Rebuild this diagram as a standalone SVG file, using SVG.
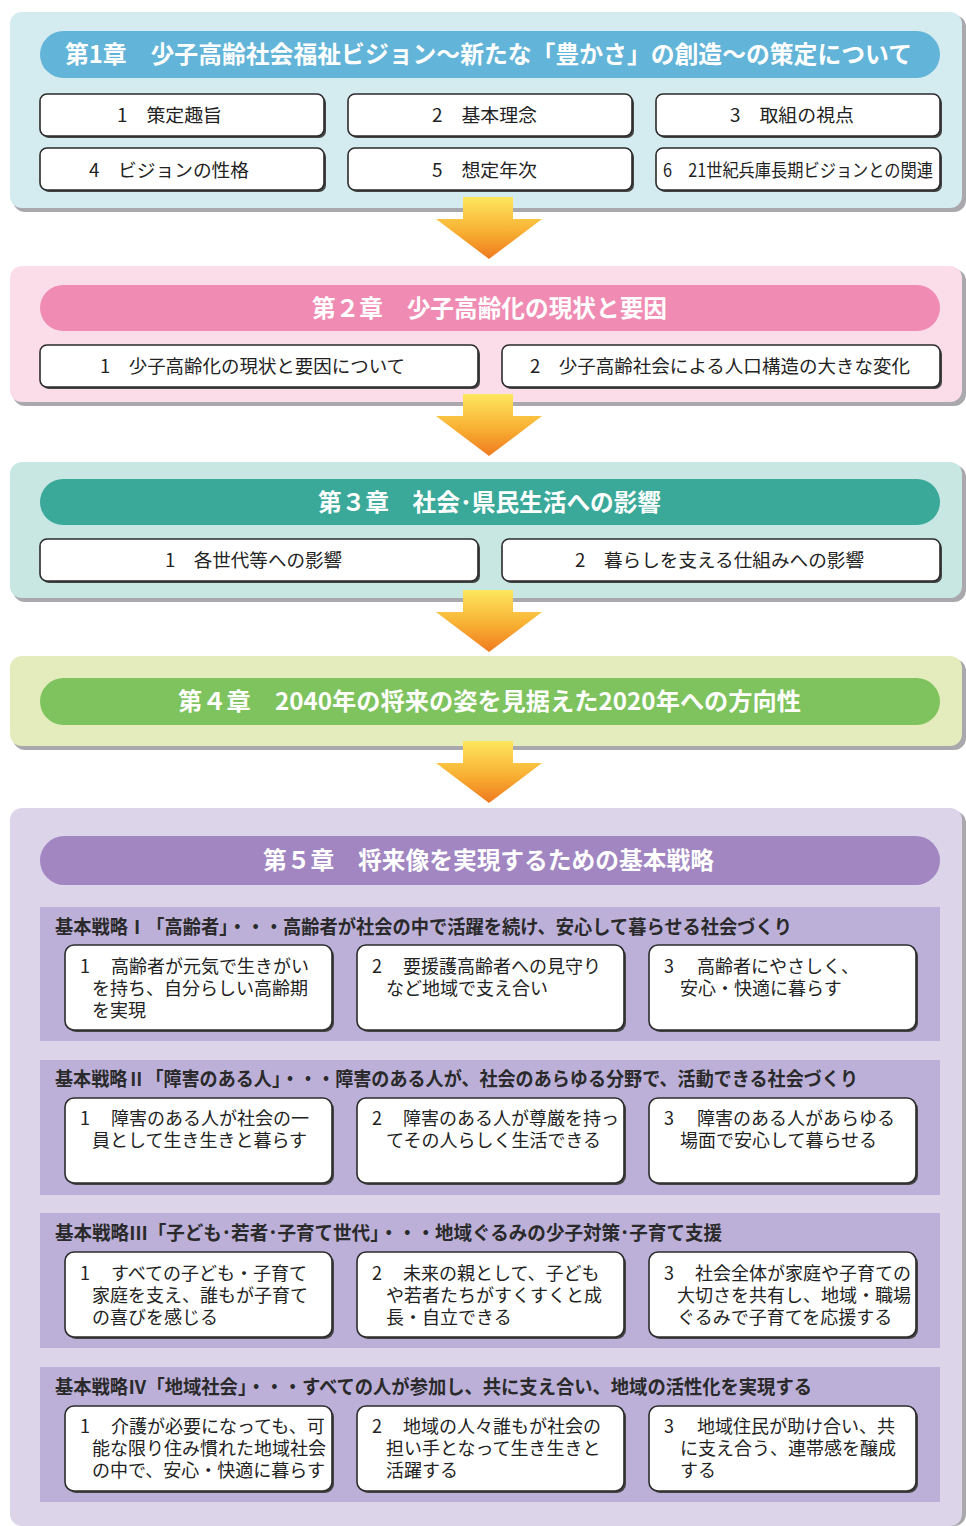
<svg xmlns="http://www.w3.org/2000/svg" width="966" height="1526" viewBox="0 0 966 1526">
<defs>
<linearGradient id="ag" x1="0" y1="0" x2="0" y2="1">
<stop offset="0" stop-color="#fde65e"/>
<stop offset="0.55" stop-color="#f8b133"/>
<stop offset="1" stop-color="#ef7a1f"/>
</linearGradient>
<style>
text{font-family:"Noto Sans CJK JP","Noto Sans",sans-serif;fill:#222}
.hd{font-size:24px;font-weight:bold;fill:#fff;text-anchor:middle}
.bx{font-size:18px}
.bt{font-size:19px;font-weight:bold;fill:#2a2a2a}
.sb{font-size:18px;fill:#222}
.box{fill:#fff;stroke:#2b2b2b;stroke-width:1.6}
.bsh{fill:#444}
.psh{fill:#a9a9ad}
.band{fill:#bcb0d9}
</style>
</defs>
<rect width="966" height="1526" fill="#fff"/>

<!-- Chapter 1 -->
<g id="ch1">
<rect class="psh" x="13" y="15" width="953" height="197" rx="12"/>
<rect x="10" y="12" width="952" height="196" rx="12" fill="#d4ebef"/>
<rect x="40" y="31" width="900" height="47" rx="23.5" fill="#62b4d8"/>
<text class="hd" x="488.5" y="63" textLength="847" lengthAdjust="spacingAndGlyphs">第1章　少子高齢社会福祉ビジョン～新たな「豊かさ」の創造～の策定について</text>
<g id="ch1-1"><rect class="bsh" x="42" y="96" width="284" height="42" rx="7"/><rect class="box" x="40" y="94" width="284" height="42" rx="7"/><text class="bx" x="117" y="121.5" textLength="105" lengthAdjust="spacingAndGlyphs">1　策定趣旨</text></g>
<g id="ch1-2"><rect class="bsh" x="350" y="96" width="284" height="42" rx="7"/><rect class="box" x="348" y="94" width="284" height="42" rx="7"/><text class="bx" x="432" y="121.5" textLength="105" lengthAdjust="spacingAndGlyphs">2　基本理念</text></g>
<g id="ch1-3"><rect class="bsh" x="658" y="96" width="284" height="42" rx="7"/><rect class="box" x="656" y="94" width="284" height="42" rx="7"/><text class="bx" x="730" y="121.5" textLength="124" lengthAdjust="spacingAndGlyphs">3　取組の視点</text></g>
<g id="ch1-4"><rect class="bsh" x="42" y="150" width="284" height="42" rx="7"/><rect class="box" x="40" y="148" width="284" height="42" rx="7"/><text class="bx" x="89" y="176.5" textLength="160" lengthAdjust="spacingAndGlyphs">4　ビジョンの性格</text></g>
<g id="ch1-5"><rect class="bsh" x="350" y="150" width="284" height="42" rx="7"/><rect class="box" x="348" y="148" width="284" height="42" rx="7"/><text class="bx" x="432" y="176.5" textLength="105" lengthAdjust="spacingAndGlyphs">5　想定年次</text></g>
<g id="ch1-6"><rect class="bsh" x="658" y="150" width="284" height="42" rx="7"/><rect class="box" x="656" y="148" width="284" height="42" rx="7"/><text class="bx" x="663" y="176.5" textLength="270" lengthAdjust="spacingAndGlyphs">6　21世紀兵庫長期ビジョンとの関連</text></g>
</g>

<!-- Chapter 2 -->
<g id="ch2">
<rect class="psh" x="13" y="269" width="953" height="137" rx="12"/>
<rect x="10" y="266" width="952" height="136" rx="12" fill="#fbdde9"/>
<rect x="40" y="285" width="900" height="46" rx="23" fill="#f08cb3"/>
<text class="hd" x="489.5" y="317" textLength="355" lengthAdjust="spacingAndGlyphs">第２章　少子高齢化の現状と要因</text>
<g id="ch2-1"><rect class="bsh" x="42" y="347" width="438" height="42" rx="7"/><rect class="box" x="40" y="345" width="438" height="42" rx="7"/><text class="bx" x="100" y="372.5" textLength="305" lengthAdjust="spacingAndGlyphs">1　少子高齢化の現状と要因について</text></g>
<g id="ch2-2"><rect class="bsh" x="504" y="347" width="438" height="42" rx="7"/><rect class="box" x="502" y="345" width="438" height="42" rx="7"/><text class="bx" x="530" y="372.5" textLength="380" lengthAdjust="spacingAndGlyphs">2　少子高齢社会による人口構造の大きな変化</text></g>
</g>

<!-- Chapter 3 -->
<g id="ch3">
<rect class="psh" x="13" y="465" width="953" height="137" rx="12"/>
<rect x="10" y="462" width="952" height="136" rx="12" fill="#c8e7e3"/>
<rect x="40" y="479" width="900" height="46" rx="23" fill="#3aa99a"/>
<text class="hd" x="489.5" y="511" textLength="343" lengthAdjust="spacingAndGlyphs">第３章　社会･県民生活への影響</text>
<g id="ch3-1"><rect class="bsh" x="42" y="541" width="438" height="42" rx="7"/><rect class="box" x="40" y="539" width="438" height="42" rx="7"/><text class="bx" x="165" y="566.5" textLength="177" lengthAdjust="spacingAndGlyphs">1　各世代等への影響</text></g>
<g id="ch3-2"><rect class="bsh" x="504" y="541" width="438" height="42" rx="7"/><rect class="box" x="502" y="539" width="438" height="42" rx="7"/><text class="bx" x="575" y="566.5" textLength="289" lengthAdjust="spacingAndGlyphs">2　暮らしを支える仕組みへの影響</text></g>
</g>

<!-- Chapter 4 -->
<g id="ch4">
<rect class="psh" x="13" y="659" width="953" height="91" rx="12"/>
<rect x="10" y="656" width="952" height="90" rx="12" fill="#e4ecbd"/>
<rect x="40" y="678" width="900" height="47" rx="23.5" fill="#7ec35d"/>
<text class="hd" x="489.5" y="710" textLength="623" lengthAdjust="spacingAndGlyphs">第４章　2040年の将来の姿を見据えた2020年への方向性</text>
</g>

<!-- Chapter 5 -->
<g id="ch5">
<rect class="psh" x="13" y="811" width="953" height="715" rx="12"/>
<rect x="10" y="808" width="952" height="718" rx="12" fill="#dcd5ea"/>
<rect x="40" y="836" width="900" height="49" rx="24.5" fill="#a186c2"/>
<text class="hd" x="488.5" y="869" textLength="451" lengthAdjust="spacingAndGlyphs">第５章　将来像を実現するための基本戦略</text>

<g id="s1">
<rect class="band" x="40" y="907" width="900" height="134"/>
<text class="bt" x="55" y="934" textLength="737" lengthAdjust="spacingAndGlyphs">基本戦略Ⅰ「高齢者」・・・高齢者が社会の中で活躍を続け、安心して暮らせる社会づくり</text>
<g id="s1-1"><rect class="bsh" x="67" y="947" width="267" height="85" rx="9"/><rect class="box" x="65" y="945" width="267" height="85" rx="9"/>
<text class="sb" y="972.5"><tspan x="80">1</tspan><tspan x="111">高齢者が元気で生きがい</tspan><tspan x="92" dy="22">を持ち、自分らしい高齢期</tspan><tspan x="92" dy="22">を実現</tspan></text></g>
<g id="s1-2"><rect class="bsh" x="359" y="947" width="267" height="85" rx="9"/><rect class="box" x="357" y="945" width="267" height="85" rx="9"/>
<text class="sb" y="972.5"><tspan x="372">2</tspan><tspan x="403">要援護高齢者への見守り</tspan><tspan x="386" dy="22">など地域で支え合い</tspan></text></g>
<g id="s1-3"><rect class="bsh" x="651" y="947" width="267" height="85" rx="9"/><rect class="box" x="649" y="945" width="267" height="85" rx="9"/>
<text class="sb" y="972.5"><tspan x="664">3</tspan><tspan x="697">高齢者にやさしく、</tspan><tspan x="680" dy="22">安心・快適に暮らす</tspan></text></g>
</g>

<g id="s2">
<rect class="band" x="40" y="1060" width="900" height="135"/>
<text class="bt" x="55" y="1086" textLength="803" lengthAdjust="spacingAndGlyphs">基本戦略Ⅱ「障害のある人」・・・障害のある人が、社会のあらゆる分野で、活動できる社会づくり</text>
<g id="s2-1"><rect class="bsh" x="67" y="1100" width="267" height="85" rx="9"/><rect class="box" x="65" y="1098" width="267" height="85" rx="9"/>
<text class="sb" y="1124.5"><tspan x="80">1</tspan><tspan x="111">障害のある人が社会の一</tspan><tspan x="92" dy="22">員として生き生きと暮らす</tspan></text></g>
<g id="s2-2"><rect class="bsh" x="359" y="1100" width="267" height="85" rx="9"/><rect class="box" x="357" y="1098" width="267" height="85" rx="9"/>
<text class="sb" y="1124.5"><tspan x="372">2</tspan><tspan x="403">障害のある人が尊厳を持っ</tspan><tspan x="386" dy="22">てその人らしく生活できる</tspan></text></g>
<g id="s2-3"><rect class="bsh" x="651" y="1100" width="267" height="85" rx="9"/><rect class="box" x="649" y="1098" width="267" height="85" rx="9"/>
<text class="sb" y="1124.5"><tspan x="664">3</tspan><tspan x="697">障害のある人があらゆる</tspan><tspan x="680" dy="22">場面で安心して暮らせる</tspan></text></g>
</g>

<g id="s3">
<rect class="band" x="40" y="1213" width="900" height="135"/>
<text class="bt" x="55" y="1240" textLength="667" lengthAdjust="spacingAndGlyphs">基本戦略Ⅲ「子ども･若者･子育て世代」・・・地域ぐるみの少子対策･子育て支援</text>
<g id="s3-1"><rect class="bsh" x="67" y="1254" width="267" height="85" rx="9"/><rect class="box" x="65" y="1252" width="267" height="85" rx="9"/>
<text class="sb" y="1279.5"><tspan x="80">1</tspan><tspan x="111">すべての子ども・子育て</tspan><tspan x="92" dy="22">家庭を支え、誰もが子育て</tspan><tspan x="92" dy="22">の喜びを感じる</tspan></text></g>
<g id="s3-2"><rect class="bsh" x="359" y="1254" width="267" height="85" rx="9"/><rect class="box" x="357" y="1252" width="267" height="85" rx="9"/>
<text class="sb" y="1279.5"><tspan x="372">2</tspan><tspan x="403">未来の親として、子ども</tspan><tspan x="386" dy="22">や若者たちがすくすくと成</tspan><tspan x="386" dy="22">長・自立できる</tspan></text></g>
<g id="s3-3"><rect class="bsh" x="651" y="1254" width="267" height="85" rx="9"/><rect class="box" x="649" y="1252" width="267" height="85" rx="9"/>
<text class="sb" y="1279.5"><tspan x="664">3</tspan><tspan x="695">社会全体が家庭や子育ての</tspan><tspan x="677" dy="22">大切さを共有し、地域・職場</tspan><tspan x="677" dy="22">ぐるみで子育てを応援する</tspan></text></g>
</g>

<g id="s4">
<rect class="band" x="40" y="1367" width="900" height="135"/>
<text class="bt" x="55" y="1394" textLength="757" lengthAdjust="spacingAndGlyphs">基本戦略Ⅳ「地域社会」・・・すべての人が参加し、共に支え合い、地域の活性化を実現する</text>
<g id="s4-1"><rect class="bsh" x="67" y="1408" width="267" height="85" rx="9"/><rect class="box" x="65" y="1406" width="267" height="85" rx="9"/>
<text class="sb" y="1433"><tspan x="80">1</tspan><tspan x="111">介護が必要になっても、可</tspan><tspan x="92" dy="22">能な限り住み慣れた地域社会</tspan><tspan x="92" dy="22">の中で、安心・快適に暮らす</tspan></text></g>
<g id="s4-2"><rect class="bsh" x="359" y="1408" width="267" height="85" rx="9"/><rect class="box" x="357" y="1406" width="267" height="85" rx="9"/>
<text class="sb" y="1433"><tspan x="372">2</tspan><tspan x="403">地域の人々誰もが社会の</tspan><tspan x="386" dy="22">担い手となって生き生きと</tspan><tspan x="386" dy="22">活躍する</tspan></text></g>
<g id="s4-3"><rect class="bsh" x="651" y="1408" width="267" height="85" rx="9"/><rect class="box" x="649" y="1406" width="267" height="85" rx="9"/>
<text class="sb" y="1433"><tspan x="664">3</tspan><tspan x="697">地域住民が助け合い、共</tspan><tspan x="680" dy="22">に支え合う、連帯感を醸成</tspan><tspan x="680" dy="22">する</tspan></text></g>
</g>
</g>

<!-- Connectors (arrows) -->
<g id="connectors" fill="url(#ag)">
<path d="M463,197 H513 V219 H542 L489,259 L436,219 H463 Z"/>
<path d="M463,394 H513 V416 H542 L489,456 L436,416 H463 Z"/>
<path d="M463,590 H513 V612 H542 L489,652 L436,612 H463 Z"/>
<path d="M463,741 H513 V763 H542 L489,803 L436,763 H463 Z"/>
</g>
</svg>
